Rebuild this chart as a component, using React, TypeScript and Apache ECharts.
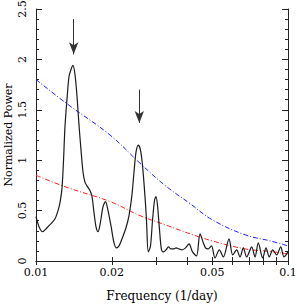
import React, { useEffect, useRef } from "react";
import * as echarts from "echarts";

// Periodogram (frequency in 1/day, normalized power)
const freq = [
  0.01, 0.01028, 0.01061, 0.01106, 0.01147, 0.0119, 0.01223, 0.01245, 0.01268, 0.01286,
  0.01303, 0.01327, 0.01352, 0.01377, 0.01402, 0.01428, 0.01455, 0.01481, 0.01509, 0.01537,
  0.01565, 0.01608, 0.01638, 0.01668, 0.01699, 0.0173, 0.01762, 0.01795, 0.01845, 0.01887,
  0.01931, 0.01984, 0.0204, 0.02087, 0.02135, 0.02194, 0.02276, 0.02339, 0.02404, 0.02448,
  0.02494, 0.02547, 0.02598, 0.02646, 0.02707, 0.02745, 0.0279, 0.02847, 0.02899, 0.02953,
  0.02994, 0.03035, 0.03091, 0.03148, 0.03206, 0.0328, 0.03356, 0.03433, 0.03513, 0.03594,
  0.03694, 0.03796, 0.0392, 0.04047, 0.04179, 0.04334, 0.04475, 0.04599, 0.04706, 0.04828,
  0.04971, 0.05132, 0.05338, 0.05537, 0.05833, 0.06033, 0.06258, 0.0645, 0.06647, 0.06856,
  0.07177, 0.07397, 0.07623, 0.07936, 0.08179, 0.08429, 0.08695, 0.09019, 0.09355, 0.09641,
  0.1,
];
const power = [
  0.44, 0.34, 0.29, 0.33, 0.37, 0.42, 0.5, 0.58, 0.72, 1.0,
  1.33, 1.6, 1.83, 1.9, 1.94, 1.85, 1.63, 1.35, 1.1, 0.88,
  0.78, 0.73, 0.7, 0.64, 0.48, 0.34, 0.29, 0.36, 0.54, 0.59,
  0.5, 0.35, 0.18, 0.13, 0.15, 0.22, 0.33, 0.45, 0.66, 0.88,
  1.08, 1.15, 1.1, 0.95, 0.64, 0.4, 0.09, 0.15, 0.4, 0.6,
  0.64, 0.55, 0.31, 0.11, 0.09, 0.11, 0.14, 0.12, 0.12, 0.13,
  0.12, 0.11, 0.13, 0.17, 0.09, 0.05, 0.27, 0.19, 0.13, 0.12,
  0.15, 0.03, 0.11, 0.04, 0.22, 0.06, 0.11, 0.04, 0.13, 0.04,
  0.14, 0.04, 0.18, 0.03, 0.13, 0.04, 0.11, 0.06, 0.14, 0.04,
  0.09,
];

// Significance levels
const levelFreq = [0.01, 0.01327, 0.01966, 0.02587, 0.0325, 0.04084, 0.04994, 0.06751, 0.08483, 0.1];
const blueLevel = [1.8, 1.56, 1.25, 0.97, 0.75, 0.57, 0.41, 0.26, 0.2, 0.15];
const redLevel = [0.85, 0.73, 0.59, 0.45, 0.36, 0.27, 0.2, 0.12, 0.095, 0.07];

// Arrows marking the peaks
const arrowFreq = [0.01411, 0.0257];
const arrowTop = [2.4, 1.7];
const arrowHead = [2.05, 1.37];

// Axis ticks and labels
const xTickValues = [0.01, 0.02, 0.03, 0.04, 0.05, 0.06, 0.07, 0.08, 0.09, 0.1];
const xLabelValues = [0.01, 0.02, 0.05, 0.1];

const FONT = "DejaVu Serif";
const AXIS_COLOR = "#222";

export default function App() {
  const ref = useRef<HTMLDivElement>(null);

  useEffect(() => {
    if (!ref.current) return;
    const chart = echarts.init(ref.current, null, { renderer: "svg" });
    const lg = (f: number) => Math.log10(f);

    const xCommon = {
      type: "value",
      min: -2,
      max: -1,
      splitLine: { show: false },
      axisLine: { show: true, lineStyle: { color: AXIS_COLOR, width: 1 } },
      axisTick: {
        show: true,
        inside: true,
        length: 4,
        customValues: xTickValues.map(lg),
        lineStyle: { color: AXIS_COLOR },
      },
    };
    const yCommon = {
      type: "value",
      min: 0,
      max: 2.5,
      interval: 0.5,
      splitLine: { show: false },
      axisLine: { show: true, lineStyle: { color: AXIS_COLOR, width: 1 } },
      axisTick: { show: true, inside: true, length: 6, lineStyle: { color: AXIS_COLOR } },
      minorTick: { show: true, splitNumber: 5, length: 3, lineStyle: { color: AXIS_COLOR } },
    };

    const option: any = {
      animation: false,
      backgroundColor: "#fff",
      grid: { left: 36, right: 9, top: 9, bottom: 43, containLabel: false, outerBoundsMode: "none" },
      xAxis: [
        {
          ...xCommon,
          position: "bottom",
          name: "Frequency (1/day)",
          nameLocation: "middle",
          nameGap: 29,
          nameMoveOverlap: false,
          nameTextStyle: { fontFamily: FONT, fontSize: 12, color: "#000" },
          axisLabel: {
            show: true,
            customValues: xLabelValues.map(lg),
            formatter: (v: number) => String(parseFloat(Math.pow(10, v).toPrecision(2))),
            fontFamily: FONT,
            fontSize: 11,
            color: "#000",
            margin: 6,
          },
        },
        {
          ...xCommon,
          position: "top",
          axisLabel: { show: false },
        },
      ],
      yAxis: [
        {
          ...yCommon,
          position: "left",
          name: "Normalized Power",
          nameLocation: "middle",
          nameGap: 22,
          nameMoveOverlap: false,
          nameTextStyle: { fontFamily: FONT, fontSize: 11, color: "#000" },
          axisLabel: {
            show: true,
            rotate: 90,
            fontFamily: FONT,
            fontSize: 11,
            color: "#000",
            margin: 8,
            formatter: (v: number) => String(v),
          },
        },
        {
          ...yCommon,
          position: "right",
          axisLabel: { show: false },
        },
      ],
      series: [
        {
          type: "line",
          name: "blue",
          data: levelFreq.map((f, i) => [lg(f), blueLevel[i]]),
          smooth: 0.4,
          showSymbol: false,
          symbol: "none",
          lineStyle: { color: "#2020ff", width: 1, type: [5, 2, 1, 2] },
          silent: true,
          z: 2,
        },
        {
          type: "line",
          name: "red",
          data: levelFreq.map((f, i) => [lg(f), redLevel[i]]),
          smooth: 0.4,
          showSymbol: false,
          symbol: "none",
          lineStyle: { color: "#ff2020", width: 1, type: [5, 2, 1, 2] },
          silent: true,
          z: 2,
        },
        {
          type: "line",
          name: "power",
          data: freq.map((f, i) => [lg(f), power[i]]),
          smooth: 0.3,
          showSymbol: false,
          symbol: "none",
          lineStyle: { color: "#1a1a1a", width: 1.2 },
          silent: true,
          z: 3,
          markLine: {
            silent: true,
            animation: false,
            label: { show: false },
            emphasis: { disabled: true },
            lineStyle: { type: "solid", color: "#333", width: 1 },
            data: arrowFreq.map((f, i) => [
              { coord: [lg(f), arrowTop[i]], symbol: "none" },
              { coord: [lg(f), arrowHead[i]], symbol: "arrow", symbolSize: [7, 12] },
            ]),
          },
        },
      ],
    };

    chart.setOption(option);
    return () => chart.dispose();
  }, []);

  return (
    <div
      ref={ref}
      style={{ position: "fixed", left: 0, top: 0, width: 297, height: 304, background: "#fff" }}
    />
  );
}
